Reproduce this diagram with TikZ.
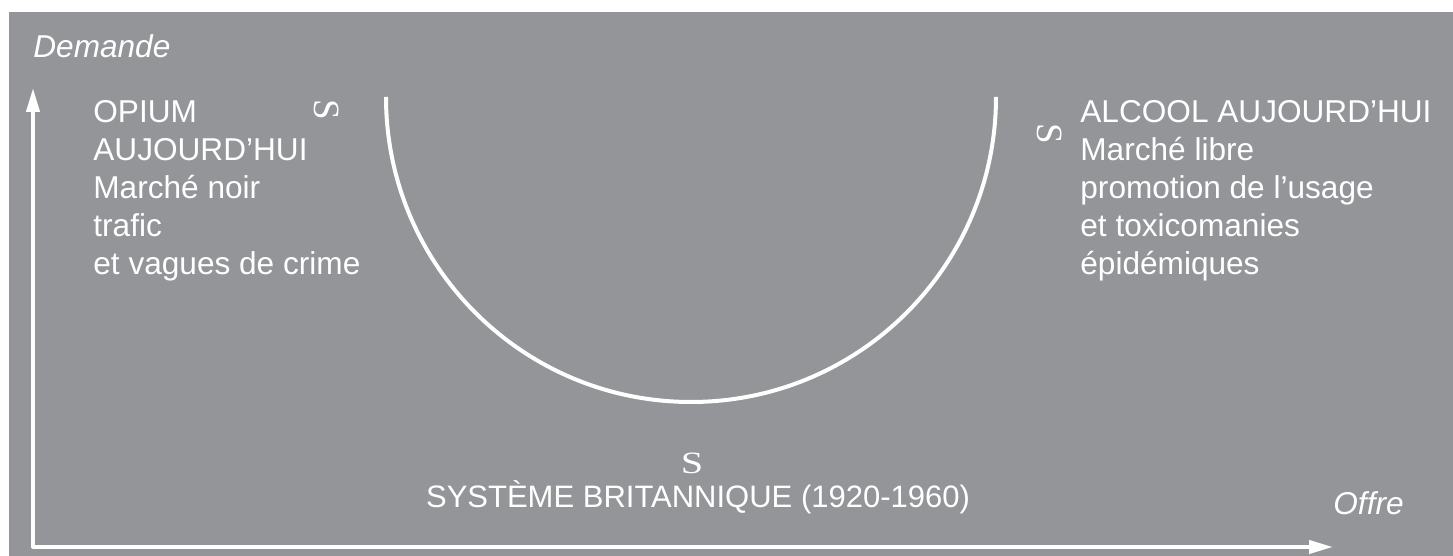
\documentclass[tikz,border=0pt]{standalone}
\usepackage{fontspec}
\setmainfont{Liberation Sans}
\newfontfamily\sglyph{Liberation Serif}
\usetikzlibrary{arrows.meta}
\definecolor{panelgrey}{RGB}{147,149,152}

\begin{document}
\begin{tikzpicture}[x=0.5pt,y=0.5pt,
    lbl/.style={text=white,inner sep=0pt,font=\fontsize{15.8}{19}\selectfont},
    axislbl/.style={lbl,anchor=base west,font=\fontsize{15.8}{19}\selectfont\itshape},
    block/.style={lbl,align=left,anchor=base west},
    sglyph/.style={text=white,inner sep=0pt,font=\sglyph\fontsize{18.5}{19}\selectfont},
    axis/.style={white,line width=2pt,line join=round,
      {Triangle[length=12pt,width=6.5pt]}-{Triangle[length=12pt,width=6.5pt]}}]
  \useasboundingbox (0,0) rectangle (1453,556);
  % panel
  \fill[white] (0,0) rectangle (1453,556);
  \fill[panelgrey] (9,0) rectangle (1453,544);
  % axes
  \coordinate (o) at (33,9);
  \coordinate (ytip) at (33,468);
  \coordinate (xtip) at (1333,9);
  \draw[axis] (ytip) -- (o) -- (xtip);
  \node[axislbl] (demande) at (33,498) {Demande};
  \node[axislbl] (offre) at (1333,41) {Offre};
  % the U curve
  \draw[white,line width=2pt] (386,459) arc[start angle=180,end angle=360,radius=305];
  % left end (anchor is the last line)
  \node[block] (opium) at (93,281) {OPIUM\\AUJOURD’HUI\\Marché noir\\trafic\\et vagues de crime};
  \node[sglyph,rotate=-90] (sopium) at (327,446) {S};
  % right end
  \node[block] (alcool) at (1080,281) {ALCOOL AUJOURD’HUI\\Marché libre\\promotion de l’usage\\et toxicomanies\\épidémiques};
  \node[sglyph,rotate=-90] (salcool) at (1050,422) {S};
  % bottom
  \node[sglyph,font=\sglyph\fontsize{15.5}{19}\selectfont,xscale=1.3] (sbrit) at (692,93) {S};
  \node[lbl,anchor=base,font=\fontsize{15.5}{19}\selectfont] (brit) at (698,48) {SYSTÈME BRITANNIQUE (1920-1960)};
\end{tikzpicture}
\end{document}
